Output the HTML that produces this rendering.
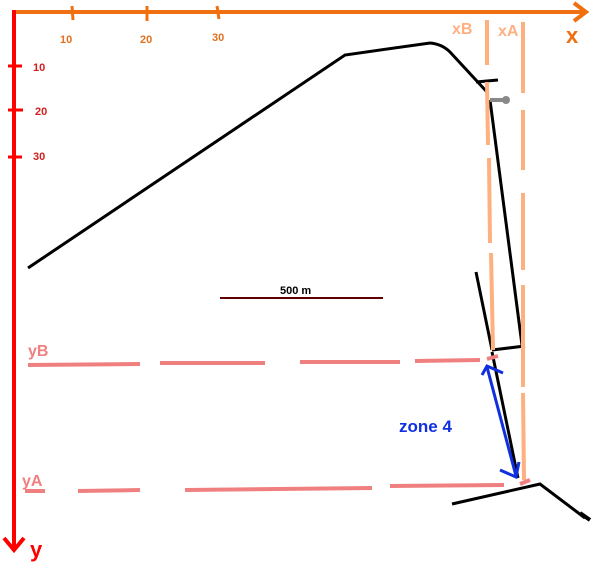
<!DOCTYPE html>
<html><head><meta charset="utf-8"><style>
html,body{margin:0;padding:0;background:#fff;}
svg{display:block;font-family:"Liberation Sans","DejaVu Sans",sans-serif;font-weight:bold;}
</style></head><body>
<svg width="600" height="564" viewBox="0 0 600 564">
<g>
<line x1="12" y1="12" x2="585" y2="12" stroke="#f07010" stroke-width="4"/>
<polyline points="574,3 586,12 574,21" fill="none" stroke="#f07010" stroke-width="4"/>
<line x1="72" y1="6" x2="73" y2="20" stroke="#f07010" stroke-width="3"/>
<line x1="147" y1="6" x2="147" y2="21" stroke="#f07010" stroke-width="3"/>
<line x1="217" y1="6" x2="219" y2="19" stroke="#f07010" stroke-width="3"/>
<text x="60" y="43" font-size="11" fill="#e07020">10</text>
<text x="140" y="43" font-size="11" fill="#e07020">20</text>
<text x="212" y="41" font-size="11" fill="#e07020">30</text>
<text x="566" y="43" font-size="22" fill="#f07010">x</text>
</g>
<g>
<line x1="14" y1="10" x2="14" y2="548" stroke="#ff0000" stroke-width="4"/>
<polyline points="4,538 14,550 24,538" fill="none" stroke="#ff0000" stroke-width="4"/>
<line x1="8" y1="66" x2="22" y2="66" stroke="#ff0000" stroke-width="3"/>
<line x1="8" y1="110" x2="23" y2="110" stroke="#ff0000" stroke-width="3"/>
<line x1="8" y1="157" x2="22" y2="157" stroke="#ff0000" stroke-width="3"/>
<text x="33" y="71" font-size="11" fill="#d02020">10</text>
<text x="35" y="115" font-size="11" fill="#d02020">20</text>
<text x="33" y="160" font-size="11" fill="#d02020">30</text>
<text x="30" y="557" font-size="22" fill="#ff0000">y</text>
</g>
<g fill="none" stroke="#000" stroke-width="3">
<path d="M28,268 L345,55 L430,43 Q442,44 450,52 L487,92"/>
<line x1="476" y1="82" x2="498" y2="80"/>
<line x1="490" y1="100" x2="522" y2="345"/>
<line x1="492" y1="350" x2="525" y2="346"/>
<line x1="476" y1="272" x2="492" y2="350"/>
<line x1="492" y1="352" x2="518" y2="478"/>
<polyline points="452,504 540,484 585,518"/>
<line x1="580" y1="513" x2="590" y2="520" stroke-width="4"/>
</g>
<circle cx="506" cy="100" r="4" fill="#888"/>
<line x1="490" y1="100" x2="505" y2="100" stroke="#888" stroke-width="4"/>
<g stroke="#ffb080" stroke-width="4">
<line x1="487" y1="20" x2="487" y2="65"/>
<line x1="487" y1="82" x2="488" y2="145"/>
<line x1="489" y1="158" x2="490" y2="243"/>
<line x1="491" y1="253" x2="493" y2="350"/>
<text x="452" y="34" font-size="16" fill="#ffb080" stroke="none">xB</text>
</g>
<g stroke="#ffb080" stroke-width="4">
<line x1="523" y1="22" x2="523" y2="93"/>
<line x1="523" y1="110" x2="523" y2="170"/>
<line x1="523" y1="193" x2="523" y2="270"/>
<line x1="523" y1="285" x2="523" y2="387"/>
<line x1="523" y1="393" x2="524" y2="480"/>
<text x="498" y="36" font-size="16" fill="#ffb080" stroke="none">xA</text>
</g>
<g stroke="#f08080" stroke-width="4">
<line x1="28" y1="365" x2="140" y2="364"/>
<line x1="160" y1="363" x2="265" y2="363"/>
<line x1="300" y1="362" x2="400" y2="362"/>
<line x1="415" y1="361" x2="480" y2="360"/>
<line x1="487" y1="359" x2="498" y2="356"/>
<text x="28" y="356" font-size="16" fill="#f08080" stroke="none">yB</text>
</g>
<g stroke="#f08080" stroke-width="4">
<line x1="25" y1="491" x2="45" y2="491"/>
<line x1="78" y1="491" x2="140" y2="490"/>
<line x1="185" y1="490" x2="372" y2="488"/>
<line x1="390" y1="486" x2="504" y2="485"/>
<line x1="520" y1="484" x2="530" y2="480"/>
<text x="22" y="486" font-size="16" fill="#f08080" stroke="none">yA</text>
</g>
<g>
<line x1="220" y1="298" x2="383" y2="298" stroke="#600000" stroke-width="2"/>
<text x="280" y="294" font-size="11" fill="#000">500 m</text>
</g>
<g stroke="#1030e0" stroke-width="3" fill="none">
<line x1="487" y1="367" x2="516" y2="476"/>
<polyline points="482,375 487,366 503,373"/>
<polyline points="500,470 516,477 519,462"/>
</g>
<text x="399" y="432" font-size="17" fill="#1030e0">zone 4</text>
</svg>
</body></html>
